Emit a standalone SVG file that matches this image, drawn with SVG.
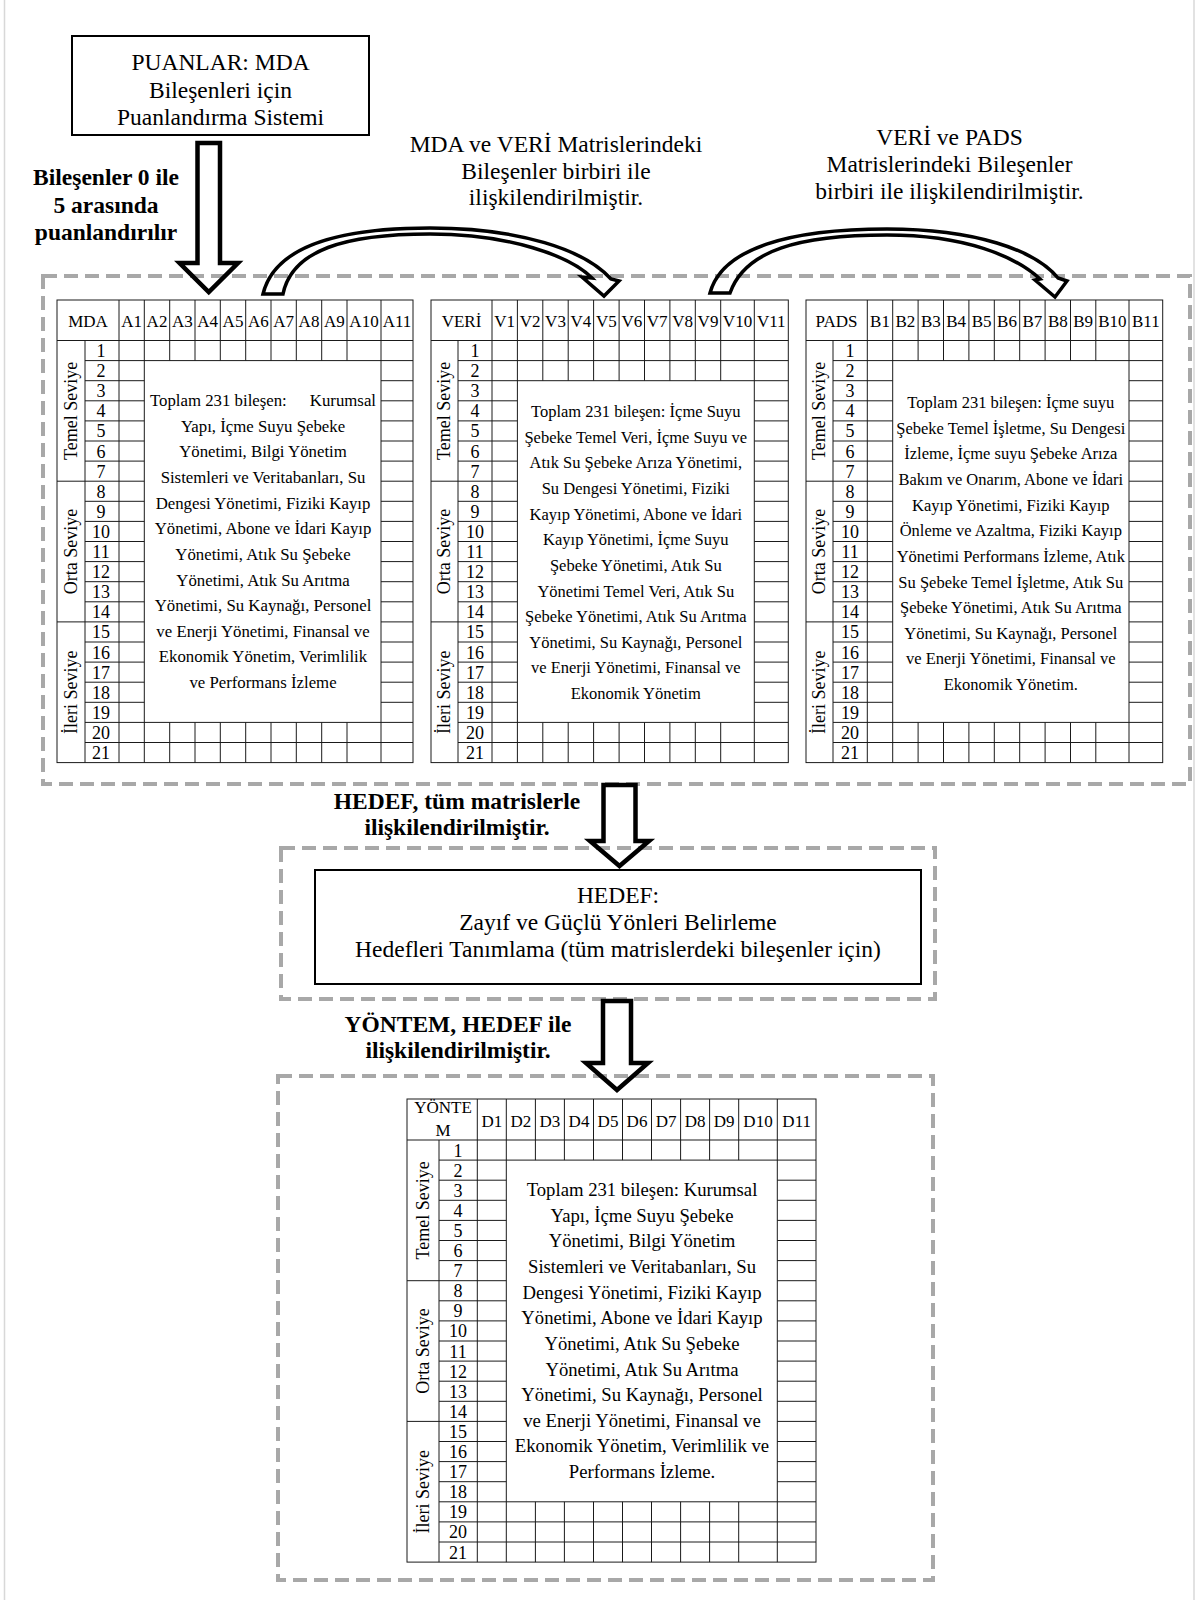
<svg xmlns="http://www.w3.org/2000/svg" width="1198" height="1600" viewBox="0 0 1198 1600">
<style>
text{font-family:"Liberation Serif","Times New Roman",serif;fill:#000}
.t{font-size:23.5px;text-anchor:middle}
.b{font-size:23.5px;font-weight:bold;text-anchor:middle}
.grid{fill:none;stroke:#1a1a1a;stroke-width:1}
.dash{fill:none;stroke:#a8a8a8;stroke-width:4;stroke-dasharray:14 7}
.box{fill:#fff;stroke:#000;stroke-width:2}
.arr{fill:none;stroke:#000;stroke-width:4.5;stroke-linejoin:miter}
.carr{fill:none;stroke:#000;stroke-width:3.5;stroke-linejoin:miter}
.num{font-size:18px;text-anchor:middle}
.hd{font-size:17px;text-anchor:middle}
.lvl{font-size:18px;text-anchor:middle}
.bt{text-anchor:middle}
.page{stroke:#d8d8d8;stroke-width:1.5}
</style>

<g id="page">
<line class="page" x1="4.5" y1="0" x2="4.5" y2="1600"/>
<line class="page" x1="1194" y1="0" x2="1194" y2="1600"/>
</g>

<g id="frames">
<rect class="dash" x="43" y="276" width="1147" height="508"/>
<rect class="dash" x="281" y="848" width="654" height="151"/>
<rect class="dash" x="278" y="1076" width="655" height="504"/>
</g>

<g id="puanlar">
<rect class="box" x="72" y="36" width="297" height="99"/>
<text class="t" font-size="23" x="220.5" y="70">PUANLAR: MDA</text>
<text class="t" x="220.5" y="97.5">Bileşenleri için</text>
<text class="t" x="220.5" y="125">Puanlandırma Sistemi</text>
</g>

<g id="labels">
<text class="b" x="106" y="185">Bileşenler 0 ile</text>
<text class="b" x="106" y="212.5">5 arasında</text>
<text class="b" x="106" y="240">puanlandırılır</text>
<text class="t" x="556" y="152">MDA ve VERİ Matrislerindeki</text>
<text class="t" x="556" y="178.5">Bileşenler birbiri ile</text>
<text class="t" x="556" y="205">ilişkilendirilmiştir.</text>
<text class="t" x="949.5" y="145">VERİ ve PADS</text>
<text class="t" x="949.5" y="171.7">Matrislerindeki Bileşenler</text>
<text class="t" x="949.5" y="198.5">birbiri ile ilişkilendirilmiştir.</text>
<text class="b" x="457" y="809">HEDEF, tüm matrislerle</text>
<text class="b" x="457" y="835">ilişkilendirilmiştir.</text>
<text class="b" x="458" y="1032">YÖNTEM, HEDEF ile</text>
<text class="b" x="458" y="1058">ilişkilendirilmiştir.</text>
</g>

<g id="mda">
<rect class="grid" x="57" y="300" width="356" height="462.6"/>
<path class="grid" d="M57 340.5H413M85 360.6H413M85 380.7H144.3M381 380.7H413M85 400.8H144.3M381 400.8H413M85 420.9H144.3M381 420.9H413M85 441H144.3M381 441H413M85 461.1H144.3M381 461.1H413M57 481.2H144.3M381 481.2H413M85 501.3H144.3M381 501.3H413M85 521.4H144.3M381 521.4H413M85 541.5H144.3M381 541.5H413M85 561.6H144.3M381 561.6H413M85 581.7H144.3M381 581.7H413M85 601.8H144.3M381 601.8H413M57 621.9H144.3M381 621.9H413M85 642H144.3M381 642H413M85 662.1H144.3M381 662.1H413M85 682.2H144.3M381 682.2H413M85 702.3H144.3M381 702.3H413M85 722.4H413M85 742.5H413"/>
<path class="grid" d="M85 340.5V762.6M119 300V762.6M144.3 300V762.6M381 300V762.6M169.7 300V360.6M169.7 722.4V762.6M195 300V360.6M195 722.4V762.6M220.3 300V360.6M220.3 722.4V762.6M245.7 300V360.6M245.7 722.4V762.6M271 300V360.6M271 722.4V762.6M296.3 300V360.6M296.3 722.4V762.6M321.7 300V360.6M321.7 722.4V762.6M347 300V360.6M347 722.4V762.6"/>
<text class="hd" font-size="16" x="88" y="327">MDA</text>
<text class="hd" y="327"><tspan x="131.7">A1</tspan><tspan x="157">A2</tspan><tspan x="182.3">A3</tspan><tspan x="207.7">A4</tspan><tspan x="233">A5</tspan><tspan x="258.3">A6</tspan><tspan x="283.7">A7</tspan><tspan x="309">A8</tspan><tspan x="334.3">A9</tspan><tspan x="364">A10</tspan><tspan x="397">A11</tspan></text>
<text class="num"><tspan x="101" y="357">1</tspan><tspan x="101" y="377.1">2</tspan><tspan x="101" y="397.2">3</tspan><tspan x="101" y="417.3">4</tspan><tspan x="101" y="437.4">5</tspan><tspan x="101" y="457.5">6</tspan><tspan x="101" y="477.6">7</tspan><tspan x="101" y="497.7">8</tspan><tspan x="101" y="517.8">9</tspan><tspan x="101" y="537.9">10</tspan><tspan x="101" y="558">11</tspan><tspan x="101" y="578.1">12</tspan><tspan x="101" y="598.2">13</tspan><tspan x="101" y="618.3">14</tspan><tspan x="101" y="638.4">15</tspan><tspan x="101" y="658.5">16</tspan><tspan x="101" y="678.6">17</tspan><tspan x="101" y="698.7">18</tspan><tspan x="101" y="718.8">19</tspan><tspan x="101" y="738.9">20</tspan><tspan x="101" y="759">21</tspan></text>
<text class="lvl" transform="translate(77,410.9) rotate(-90)">Temel Seviye</text>
<text class="lvl" transform="translate(77,551.5) rotate(-90)">Orta Seviye</text>
<text class="lvl" transform="translate(77,692.2) rotate(-90)">İleri Seviye</text>
<text font-size="16.8"><tspan x="150" y="406">Toplam 231 bileşen:</tspan><tspan x="376" y="406" text-anchor="end">Kurumsal</tspan></text>
<text class="bt" font-size="16.8"><tspan x="263" y="431.6">Yapı, İçme Suyu Şebeke</tspan><tspan x="263" y="457.3">Yönetimi, Bilgi Yönetim</tspan><tspan x="263" y="482.9">Sistemleri ve Veritabanları, Su</tspan><tspan x="263" y="508.6">Dengesi Yönetimi, Fiziki Kayıp</tspan><tspan x="263" y="534.2">Yönetimi, Abone ve İdari Kayıp</tspan><tspan x="263" y="559.8">Yönetimi, Atık Su Şebeke</tspan><tspan x="263" y="585.5">Yönetimi, Atık Su Arıtma</tspan><tspan x="263" y="611.1">Yönetimi, Su Kaynağı, Personel</tspan><tspan x="263" y="636.8">ve Enerji Yönetimi,  Finansal ve</tspan><tspan x="263" y="662.4">Ekonomik Yönetim, Verimlilik</tspan><tspan x="263" y="688">ve Performans İzleme</tspan></text>
</g>

<g id="veri">
<rect class="grid" x="431" y="300" width="357.3" height="462.6"/>
<path class="grid" d="M431 340.5H788.3M458 360.6H788.3M458 380.7H788.3M458 400.8H517.4M754.3 400.8H788.3M458 420.9H517.4M754.3 420.9H788.3M458 441H517.4M754.3 441H788.3M458 461.1H517.4M754.3 461.1H788.3M431 481.2H517.4M754.3 481.2H788.3M458 501.3H517.4M754.3 501.3H788.3M458 521.4H517.4M754.3 521.4H788.3M458 541.5H517.4M754.3 541.5H788.3M458 561.6H517.4M754.3 561.6H788.3M458 581.7H517.4M754.3 581.7H788.3M458 601.8H517.4M754.3 601.8H788.3M431 621.9H517.4M754.3 621.9H788.3M458 642H517.4M754.3 642H788.3M458 662.1H517.4M754.3 662.1H788.3M458 682.2H517.4M754.3 682.2H788.3M458 702.3H517.4M754.3 702.3H788.3M458 722.4H788.3M458 742.5H788.3"/>
<path class="grid" d="M458 340.5V762.6M492 300V762.6M517.4 300V762.6M754.3 300V762.6M542.8 300V380.7M542.8 722.4V762.6M568.2 300V380.7M568.2 722.4V762.6M593.6 300V380.7M593.6 722.4V762.6M619.1 300V380.7M619.1 722.4V762.6M644.5 300V380.7M644.5 722.4V762.6M669.9 300V380.7M669.9 722.4V762.6M695.3 300V380.7M695.3 722.4V762.6M720.7 300V380.7M720.7 722.4V762.6"/>
<text class="hd" font-size="16" x="461.5" y="327">VERİ</text>
<text class="hd" y="327"><tspan x="504.7">V1</tspan><tspan x="530.1">V2</tspan><tspan x="555.5">V3</tspan><tspan x="580.9">V4</tspan><tspan x="606.4">V5</tspan><tspan x="631.8">V6</tspan><tspan x="657.2">V7</tspan><tspan x="682.6">V8</tspan><tspan x="708">V9</tspan><tspan x="737.5">V10</tspan><tspan x="771.3">V11</tspan></text>
<text class="num"><tspan x="475" y="357">1</tspan><tspan x="475" y="377.1">2</tspan><tspan x="475" y="397.2">3</tspan><tspan x="475" y="417.3">4</tspan><tspan x="475" y="437.4">5</tspan><tspan x="475" y="457.5">6</tspan><tspan x="475" y="477.6">7</tspan><tspan x="475" y="497.7">8</tspan><tspan x="475" y="517.8">9</tspan><tspan x="475" y="537.9">10</tspan><tspan x="475" y="558">11</tspan><tspan x="475" y="578.1">12</tspan><tspan x="475" y="598.2">13</tspan><tspan x="475" y="618.3">14</tspan><tspan x="475" y="638.4">15</tspan><tspan x="475" y="658.5">16</tspan><tspan x="475" y="678.6">17</tspan><tspan x="475" y="698.7">18</tspan><tspan x="475" y="718.8">19</tspan><tspan x="475" y="738.9">20</tspan><tspan x="475" y="759">21</tspan></text>
<text class="lvl" transform="translate(450,410.9) rotate(-90)">Temel Seviye</text>
<text class="lvl" transform="translate(450,551.5) rotate(-90)">Orta Seviye</text>
<text class="lvl" transform="translate(450,692.2) rotate(-90)">İleri Seviye</text>
<text class="bt" font-size="16.5"><tspan x="635.8" y="417">Toplam 231 bileşen: İçme Suyu</tspan><tspan x="635.8" y="442.6">Şebeke Temel Veri, İçme Suyu ve</tspan><tspan x="635.8" y="468.3">Atık Su Şebeke Arıza Yönetimi,</tspan><tspan x="635.8" y="493.9">Su Dengesi Yönetimi, Fiziki</tspan><tspan x="635.8" y="519.6">Kayıp Yönetimi, Abone ve İdari</tspan><tspan x="635.8" y="545.2">Kayıp Yönetimi,  İçme Suyu</tspan><tspan x="635.8" y="570.8">Şebeke Yönetimi, Atık Su</tspan><tspan x="635.8" y="596.5">Yönetimi Temel Veri, Atık Su</tspan><tspan x="635.8" y="622.1">Şebeke Yönetimi,  Atık Su Arıtma</tspan><tspan x="635.8" y="647.8">Yönetimi, Su Kaynağı, Personel</tspan><tspan x="635.8" y="673.4">ve Enerji Yönetimi, Finansal ve</tspan><tspan x="635.8" y="699">Ekonomik Yönetim</tspan></text>
</g>

<g id="pads">
<rect class="grid" x="806" y="300" width="356.7" height="462.6"/>
<path class="grid" d="M806 340.5H1162.7M833 360.6H1162.7M833 380.7H892.7M1129 380.7H1162.7M833 400.8H892.7M1129 400.8H1162.7M833 420.9H892.7M1129 420.9H1162.7M833 441H892.7M1129 441H1162.7M833 461.1H892.7M1129 461.1H1162.7M806 481.2H892.7M1129 481.2H1162.7M833 501.3H892.7M1129 501.3H1162.7M833 521.4H892.7M1129 521.4H1162.7M833 541.5H892.7M1129 541.5H1162.7M833 561.6H892.7M1129 561.6H1162.7M833 581.7H892.7M1129 581.7H1162.7M833 601.8H892.7M1129 601.8H1162.7M806 621.9H892.7M1129 621.9H1162.7M833 642H892.7M1129 642H1162.7M833 662.1H892.7M1129 662.1H1162.7M833 682.2H892.7M1129 682.2H1162.7M833 702.3H892.7M1129 702.3H1162.7M833 722.4H1162.7M833 742.5H1162.7"/>
<path class="grid" d="M833 340.5V762.6M867.3 300V762.6M892.7 300V762.6M1129 300V762.6M918.1 300V360.6M918.1 722.4V762.6M943.5 300V360.6M943.5 722.4V762.6M968.9 300V360.6M968.9 722.4V762.6M994.3 300V360.6M994.3 722.4V762.6M1019.7 300V360.6M1019.7 722.4V762.6M1045.1 300V360.6M1045.1 722.4V762.6M1070.5 300V360.6M1070.5 722.4V762.6M1095.8 300V360.6M1095.8 722.4V762.6"/>
<text class="hd" font-size="14.5" x="836.5" y="327">PADS</text>
<text class="hd" y="327"><tspan x="880">B1</tspan><tspan x="905.4">B2</tspan><tspan x="930.8">B3</tspan><tspan x="956.2">B4</tspan><tspan x="981.6">B5</tspan><tspan x="1007">B6</tspan><tspan x="1032.4">B7</tspan><tspan x="1057.8">B8</tspan><tspan x="1083.2">B9</tspan><tspan x="1112.4">B10</tspan><tspan x="1145.9">B11</tspan></text>
<text class="num"><tspan x="850" y="357">1</tspan><tspan x="850" y="377.1">2</tspan><tspan x="850" y="397.2">3</tspan><tspan x="850" y="417.3">4</tspan><tspan x="850" y="437.4">5</tspan><tspan x="850" y="457.5">6</tspan><tspan x="850" y="477.6">7</tspan><tspan x="850" y="497.7">8</tspan><tspan x="850" y="517.8">9</tspan><tspan x="850" y="537.9">10</tspan><tspan x="850" y="558">11</tspan><tspan x="850" y="578.1">12</tspan><tspan x="850" y="598.2">13</tspan><tspan x="850" y="618.3">14</tspan><tspan x="850" y="638.4">15</tspan><tspan x="850" y="658.5">16</tspan><tspan x="850" y="678.6">17</tspan><tspan x="850" y="698.7">18</tspan><tspan x="850" y="718.8">19</tspan><tspan x="850" y="738.9">20</tspan><tspan x="850" y="759">21</tspan></text>
<text class="lvl" transform="translate(825,410.9) rotate(-90)">Temel Seviye</text>
<text class="lvl" transform="translate(825,551.5) rotate(-90)">Orta Seviye</text>
<text class="lvl" transform="translate(825,692.2) rotate(-90)">İleri Seviye</text>
<text class="bt" font-size="16.5"><tspan x="1010.8" y="408">Toplam 231 bileşen:  İçme suyu</tspan><tspan x="1010.8" y="433.6">Şebeke Temel İşletme, Su Dengesi</tspan><tspan x="1010.8" y="459.3">İzleme, İçme suyu Şebeke Arıza</tspan><tspan x="1010.8" y="484.9">Bakım ve Onarım, Abone ve İdari</tspan><tspan x="1010.8" y="510.6">Kayıp Yönetimi, Fiziki Kayıp</tspan><tspan x="1010.8" y="536.2">Önleme ve Azaltma, Fiziki Kayıp</tspan><tspan x="1010.8" y="561.8">Yönetimi Performans İzleme, Atık</tspan><tspan x="1010.8" y="587.5">Su Şebeke Temel İşletme, Atık Su</tspan><tspan x="1010.8" y="613.1">Şebeke Yönetimi, Atık Su Arıtma</tspan><tspan x="1010.8" y="638.8">Yönetimi, Su Kaynağı, Personel</tspan><tspan x="1010.8" y="664.4">ve Enerji Yönetimi, Finansal ve</tspan><tspan x="1010.8" y="690">Ekonomik Yönetim.</tspan></text>
</g>

<g id="hedef">
<rect class="box" x="315" y="870" width="606" height="114"/>
<text class="t" x="618" y="903">HEDEF:</text>
<text class="t" x="618" y="930">Zayıf ve Güçlü Yönleri Belirleme</text>
<text class="t" x="618" y="957">Hedefleri Tanımlama (tüm matrislerdeki bileşenler için)</text>
</g>

<g id="yontem">
<rect class="grid" x="407" y="1099" width="409" height="463.1"/>
<path class="grid" d="M407 1140H816M439 1160.1H816M439 1180.2H506.3M777.3 1180.2H816M439 1200.3H506.3M777.3 1200.3H816M439 1220.4H506.3M777.3 1220.4H816M439 1240.5H506.3M777.3 1240.5H816M439 1260.6H506.3M777.3 1260.6H816M407 1280.7H506.3M777.3 1280.7H816M439 1300.8H506.3M777.3 1300.8H816M439 1320.9H506.3M777.3 1320.9H816M439 1341H506.3M777.3 1341H816M439 1361.1H506.3M777.3 1361.1H816M439 1381.2H506.3M777.3 1381.2H816M439 1401.3H506.3M777.3 1401.3H816M407 1421.4H506.3M777.3 1421.4H816M439 1441.5H506.3M777.3 1441.5H816M439 1461.6H506.3M777.3 1461.6H816M439 1481.7H506.3M777.3 1481.7H816M439 1501.8H816M439 1521.9H816M439 1542H816"/>
<path class="grid" d="M439 1140V1562.1M477.3 1099V1562.1M506.3 1099V1562.1M777.3 1099V1562.1M535.4 1099V1160.1M535.4 1501.8V1562.1M564.4 1099V1160.1M564.4 1501.8V1562.1M593.5 1099V1160.1M593.5 1501.8V1562.1M622.5 1099V1160.1M622.5 1501.8V1562.1M651.5 1099V1160.1M651.5 1501.8V1562.1M680.6 1099V1160.1M680.6 1501.8V1562.1M709.6 1099V1160.1M709.6 1501.8V1562.1M738.7 1099V1160.1M738.7 1501.8V1562.1"/>
<text class="hd" font-size="16" x="443" y="1113">YÖNTE</text>
<text class="hd" font-size="16" x="443" y="1135.5">M</text>
<text class="hd" font-size="18.5" y="1127"><tspan x="491.8">D1</tspan><tspan x="520.9">D2</tspan><tspan x="549.9">D3</tspan><tspan x="579">D4</tspan><tspan x="608">D5</tspan><tspan x="637">D6</tspan><tspan x="666.1">D7</tspan><tspan x="695.1">D8</tspan><tspan x="724.2">D9</tspan><tspan x="758">D10</tspan><tspan x="796.7">D11</tspan></text>
<text class="num"><tspan x="458" y="1156.5">1</tspan><tspan x="458" y="1176.6">2</tspan><tspan x="458" y="1196.7">3</tspan><tspan x="458" y="1216.8">4</tspan><tspan x="458" y="1236.9">5</tspan><tspan x="458" y="1257">6</tspan><tspan x="458" y="1277.1">7</tspan><tspan x="458" y="1297.2">8</tspan><tspan x="458" y="1317.3">9</tspan><tspan x="458" y="1337.4">10</tspan><tspan x="458" y="1357.5">11</tspan><tspan x="458" y="1377.6">12</tspan><tspan x="458" y="1397.7">13</tspan><tspan x="458" y="1417.8">14</tspan><tspan x="458" y="1437.9">15</tspan><tspan x="458" y="1458">16</tspan><tspan x="458" y="1478.1">17</tspan><tspan x="458" y="1498.2">18</tspan><tspan x="458" y="1518.3">19</tspan><tspan x="458" y="1538.4">20</tspan><tspan x="458" y="1558.5">21</tspan></text>
<text class="lvl" transform="translate(429,1210.4) rotate(-90)">Temel Seviye</text>
<text class="lvl" transform="translate(429,1351) rotate(-90)">Orta Seviye</text>
<text class="lvl" transform="translate(429,1491.8) rotate(-90)">İleri Seviye</text>
<text class="bt" font-size="18.7"><tspan x="642" y="1196">Toplam 231 bileşen: Kurumsal</tspan><tspan x="642" y="1221.6">Yapı, İçme Suyu Şebeke</tspan><tspan x="642" y="1247.3">Yönetimi, Bilgi Yönetim</tspan><tspan x="642" y="1272.9">Sistemleri ve Veritabanları, Su</tspan><tspan x="642" y="1298.6">Dengesi Yönetimi, Fiziki Kayıp</tspan><tspan x="642" y="1324.2">Yönetimi, Abone ve İdari Kayıp</tspan><tspan x="642" y="1349.8">Yönetimi,  Atık Su Şebeke</tspan><tspan x="642" y="1375.5">Yönetimi, Atık Su Arıtma</tspan><tspan x="642" y="1401.1">Yönetimi, Su Kaynağı, Personel</tspan><tspan x="642" y="1426.8">ve Enerji Yönetimi, Finansal ve</tspan><tspan x="642" y="1452.4">Ekonomik Yönetim, Verimlilik ve</tspan><tspan x="642" y="1478">Performans İzleme.</tspan></text>
</g>

<g id="connectors">
<path class="arr" d="M197.5 143H220V263H238L208.75 292L179.5 263H197.5Z"/>
<path class="carr" d="M263 294C275 245 340 228 430 228C520 228 585 250 611 279L619 281L604 296L582 277L592 278C570 256 510 234 430 234C345 234 292 250 283 294Z"/>
<path class="carr" d="M710 293C722 248 790 229 887 229C975 229 1035 250 1058 278L1067 281L1055 297L1035 280L1040 279C1015 256 965 235 887 235C800 235 745 250 730 293Z"/>
<path class="arr" d="M603.5 785H635.5V841H649L619.5 866L590 841H603.5Z"/>
<path class="arr" d="M603 1001H631V1063H648L617 1090L586 1063H603Z"/>
</g>
</svg>
